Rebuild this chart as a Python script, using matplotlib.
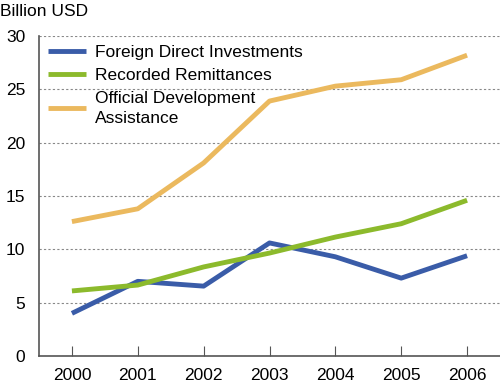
import matplotlib
matplotlib.use("Agg")
import matplotlib.pyplot as plt

years = [2000, 2001, 2002, 2003, 2004, 2005, 2006]
fdi = [4.0, 7.0, 6.55, 10.6, 9.3, 7.3, 9.4]
remit = [6.1, 6.65, 8.35, 9.65, 11.15, 12.4, 14.6]
oda = [12.6, 13.8, 18.1, 23.9, 25.3, 25.9, 28.2]
labels = ["Foreign Direct Investments", "Recorded Remittances", "Official Development\nAssistance"]
colors = ["#3a5ca8", "#8cba2c", "#ebb95e"]

plt.rcParams['font.family'] = ['Liberation Sans', 'DejaVu Sans']

fig = plt.figure(figsize=(5, 3.84), dpi=100)
ax = fig.add_axes([39/500, 1-356/384, 461/500, 320/384])

for series, lab, c in zip([fdi, remit, oda], labels, colors):
    ax.plot(years, series, color=c, lw=3.5, label=lab, solid_capstyle='butt')

ax.set_xlim(1999.5, 2006.5)
ax.set_ylim(0, 30)
ax.set_yticks([0, 5, 10, 15, 20, 25, 30])
ax.set_xticks(years)
ax.yaxis.grid(True, linestyle=(0, (2, 2)), color='#888888', lw=0.8)
ax.set_axisbelow(True)
for s in ['top', 'right']:
    ax.spines[s].set_visible(False)
for s in ['left', 'bottom']:
    ax.spines[s].set_color('#555555')
    ax.spines[s].set_linewidth(1.2)
ax.tick_params(axis='y', length=0, labelsize=12.5, pad=10)
ax.tick_params(axis='x', direction='in', length=7, color='#555555', labelsize=12.5, pad=9)

fig.text(0.0, 1-12/384, "Billion USD", fontsize=12.5, va='center', ha='left')

leg = ax.legend(loc='upper left', bbox_to_anchor=(0.0, 1.0), frameon=False, fontsize=12.5,
                handlelength=2.2, handletextpad=0.5, labelspacing=0.45, borderaxespad=0.2,
                borderpad=0.3)
for t in leg.get_texts():
    t.set_linespacing(1.45)

fig.savefig("out.png", dpi=100)
